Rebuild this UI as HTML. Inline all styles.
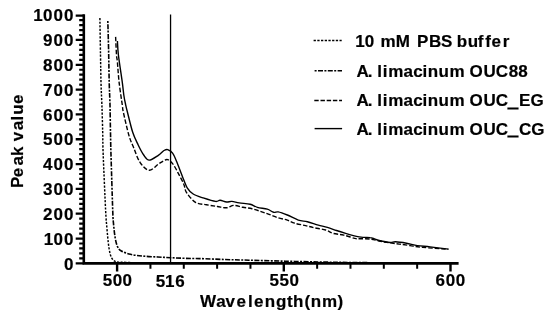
<!DOCTYPE html>
<html><head><meta charset="utf-8"><title>Peak value vs Wavelength</title>
<style>html,body{margin:0;padding:0;background:#fff}body{width:550px;height:313px;overflow:hidden}</style></head>
<body>
<svg width="550" height="313" viewBox="0 0 550 313" style="display:block">
<rect width="550" height="313" fill="#fff"/>
<g fill="none" stroke="#000" stroke-linecap="butt" stroke-linejoin="round">
<path d="M99.9 18.1C100.0 24.2 100.3 44.3 100.5 55.0C100.7 65.7 100.8 74.0 101.0 82.3C101.2 90.6 101.6 96.7 101.9 105.0C102.2 113.3 102.5 124.0 102.7 132.3C102.9 140.6 102.7 142.1 103.2 155.0C103.7 167.9 105.0 197.8 105.6 210.0C106.2 222.2 106.5 222.7 106.9 228.2C107.4 233.7 107.8 238.6 108.3 242.8C108.8 247.1 109.4 250.9 110.1 253.7C110.8 256.5 111.7 258.1 112.7 259.5C113.7 260.9 115.0 261.4 116.2 261.8C117.4 262.2 118.4 262.1 120.0 262.2C121.6 262.3 123.5 262.3 126.0 262.4C128.5 262.5 131.0 262.6 135.0 262.7C139.0 262.8 147.5 263.0 150.0 263.1L170 263.3L448.4 263.3" stroke-width="1.45" stroke-dasharray="2.2 1.44"/>
<path d="M107.8 21.0C108.0 26.7 108.5 44.8 108.7 55.0C108.9 65.2 109.0 74.0 109.2 82.3C109.4 90.6 109.8 96.7 110.0 105.0C110.2 113.3 110.3 124.0 110.5 132.3C110.7 140.6 110.6 142.1 111.0 155.0C111.4 167.9 112.3 198.4 112.7 210.0C113.1 221.6 113.2 220.0 113.6 224.6C114.0 229.2 114.5 233.7 115.1 237.3C115.7 240.9 116.4 244.1 117.4 246.4C118.5 248.7 119.2 249.7 121.4 251.0C123.6 252.3 126.8 253.5 130.5 254.3C134.2 255.2 138.7 255.7 143.3 256.1C147.9 256.6 153.4 256.7 157.9 257.0C162.4 257.3 166.1 257.5 170.6 257.7C175.1 257.9 180.1 258.1 185.0 258.3C189.9 258.5 193.3 258.4 200.0 258.6C206.7 258.8 216.8 259.2 225.0 259.5C233.2 259.8 239.0 259.9 249.0 260.2C259.0 260.5 273.2 260.9 285.0 261.2C296.8 261.5 309.2 261.8 320.0 262.0C330.8 262.2 340.0 262.4 350.0 262.5C360.0 262.6 370.0 262.7 380.0 262.8C390.0 262.9 398.6 262.9 410.0 263.0C421.4 263.1 442.0 263.1 448.4 263.1" stroke-width="1.6" stroke-dasharray="2 1.4 5 1.4"/>
<path d="M115.6 36.9C115.8 39.9 116.2 50.8 116.5 55.0C116.8 59.2 117.0 57.5 117.4 62.0C117.8 66.5 118.3 75.1 119.1 82.3C119.9 89.5 121.6 100.0 122.3 105.0C123.0 110.0 122.2 107.0 123.3 112.0C124.4 117.0 127.1 129.0 128.8 135.0C130.5 141.0 131.8 143.2 133.7 147.8C135.6 152.4 137.4 158.6 140.0 162.3C142.6 166.1 146.0 170.0 149.1 170.3C152.2 170.6 155.8 165.7 158.3 164.1C160.8 162.5 162.4 161.3 164.0 160.6C165.6 159.8 166.2 159.0 167.7 159.6C169.2 160.2 171.0 161.6 172.8 163.9C174.6 166.2 176.5 169.9 178.3 173.3C180.1 176.7 182.5 181.0 183.8 184.2C185.2 187.4 184.5 189.3 186.4 192.3C188.3 195.3 192.2 200.2 195.5 202.3C198.8 204.4 202.8 204.0 206.4 204.7C210.1 205.4 214.1 206.0 217.4 206.5C220.8 207.0 223.8 208.0 226.5 207.8C229.2 207.6 231.1 205.5 233.8 205.4C236.5 205.3 239.9 206.8 242.9 207.3C245.9 207.9 249.0 208.0 252.0 208.7C255.0 209.4 258.2 210.6 261.1 211.6C264.0 212.6 266.2 213.4 269.1 214.4C272.0 215.4 275.2 216.9 278.2 217.8C281.2 218.8 284.6 219.2 287.3 220.1C290.0 221.0 291.6 222.3 294.6 223.2C297.6 224.1 302.2 224.8 305.5 225.6C308.8 226.4 311.2 227.1 314.6 227.8C318.0 228.5 322.6 229.1 325.6 230.0C328.7 230.9 329.9 232.5 332.9 233.3C335.9 234.2 340.2 234.2 343.8 235.1C347.4 235.9 352.1 237.8 354.7 238.4C357.2 239.0 356.6 238.6 359.1 238.7C361.7 238.8 366.7 238.6 370.0 239.0C373.3 239.4 375.8 240.3 379.1 241.0C382.5 241.7 386.8 242.4 390.1 242.9C393.5 243.4 395.9 243.7 399.2 244.1C402.5 244.5 406.2 245.0 410.1 245.6C414.1 246.2 416.5 246.8 422.9 247.4C429.3 248.0 444.1 248.9 448.4 249.2" stroke-width="1.4" stroke-dasharray="4.5 1.9"/>
<path d="M117.4 41.0C117.6 43.3 117.6 48.1 118.4 55.0C119.2 61.9 121.4 75.6 122.3 82.3C123.2 89.0 123.3 91.4 123.8 95.0C124.3 98.6 124.9 101.2 125.5 104.0C126.1 106.8 126.2 107.3 127.4 112.0C128.6 116.7 130.9 126.8 132.7 132.3C134.5 137.8 136.4 141.2 138.2 145.0C140.0 148.8 141.9 152.5 143.7 155.0C145.5 157.5 146.7 160.0 149.1 160.1C151.5 160.2 155.8 156.9 158.3 155.3C160.8 153.7 162.4 151.4 164.0 150.5C165.6 149.6 166.2 149.1 167.7 149.6C169.2 150.1 171.2 151.0 172.8 153.4C174.5 155.8 176.0 160.2 177.6 164.1C179.2 168.0 181.0 172.9 182.6 176.9C184.2 180.9 185.4 185.0 187.2 187.8C189.0 190.7 190.6 192.3 193.2 194.0C195.8 195.7 199.1 196.6 202.8 197.8C206.5 199.0 212.6 201.0 215.5 201.4C218.4 201.8 218.3 200.1 220.1 200.2C221.9 200.3 224.5 201.8 226.5 202.0C228.5 202.2 229.8 201.2 231.9 201.4C234.0 201.6 236.2 202.4 239.2 202.9C242.2 203.4 247.1 203.5 250.1 204.2C253.1 204.9 254.5 206.5 257.4 207.3C260.3 208.1 264.6 208.4 267.3 209.2C270.0 210.0 271.9 211.9 273.7 212.3C275.5 212.8 275.9 211.5 278.2 211.9C280.5 212.3 283.9 213.6 287.3 215.0C290.7 216.4 295.0 219.0 298.3 220.1C301.6 221.2 304.1 221.0 307.4 221.8C310.7 222.6 315.0 224.2 318.3 225.1C321.6 226.0 324.4 226.5 327.4 227.4C330.4 228.3 333.5 229.5 336.5 230.5C339.5 231.5 341.8 232.2 345.6 233.3C349.4 234.4 356.0 236.2 359.1 236.9C362.2 237.6 362.7 237.3 364.5 237.4C366.3 237.5 368.3 237.3 370.0 237.6C371.7 237.8 373.0 238.4 374.5 238.9C376.0 239.4 376.5 239.9 379.1 240.5C381.7 241.1 387.4 242.3 390.1 242.5C392.8 242.7 392.8 241.7 395.5 241.8C398.2 241.9 402.9 242.6 406.5 243.2C410.1 243.8 413.5 245.0 417.4 245.6C421.3 246.2 424.9 246.3 430.1 246.9C435.3 247.5 445.3 248.7 448.4 249.1" stroke-width="1.4"/>
<path d="M170.55 14.5V263" stroke-width="1.3"/>
<path d="M83.8 14.3V264.7M82.5 263.4H458.6" stroke-width="2.6"/>
<path d="M75.7 263.35H83.8M75.7 238.53H83.8M75.7 213.71H83.8M75.7 188.89H83.8M75.7 164.07H83.8M75.7 139.25H83.8M75.7 114.43H83.8M75.7 89.61H83.8M75.7 64.79H83.8M75.7 39.97H83.8M75.7 15.65H83.8" stroke-width="2.3"/>
<path d="M79.2 258.39H83.8M79.2 253.42H83.8M79.2 248.46H83.8M79.2 243.49H83.8M79.2 233.57H83.8M79.2 228.60H83.8M79.2 223.64H83.8M79.2 218.67H83.8M79.2 208.75H83.8M79.2 203.78H83.8M79.2 198.82H83.8M79.2 193.85H83.8M79.2 183.93H83.8M79.2 178.96H83.8M79.2 174.00H83.8M79.2 169.03H83.8M79.2 159.11H83.8M79.2 154.14H83.8M79.2 149.18H83.8M79.2 144.21H83.8M79.2 134.29H83.8M79.2 129.32H83.8M79.2 124.36H83.8M79.2 119.39H83.8M79.2 109.47H83.8M79.2 104.50H83.8M79.2 99.54H83.8M79.2 94.57H83.8M79.2 84.65H83.8M79.2 79.68H83.8M79.2 74.72H83.8M79.2 69.75H83.8M79.2 59.83H83.8M79.2 54.86H83.8M79.2 49.90H83.8M79.2 44.93H83.8M79.2 35.01H83.8M79.2 30.04H83.8M79.2 25.08H83.8M79.2 20.11H83.8" stroke-width="2.2"/>
<path d="M117.10 263.4V271.6M283.80 263.4V271.6M450.50 263.4V271.6" stroke-width="2.4"/>
<path d="M150.44 263.4V268.8M183.78 263.4V268.8M217.12 263.4V268.8M250.46 263.4V268.8M317.14 263.4V268.8M350.48 263.4V268.8M383.82 263.4V268.8M417.16 263.4V268.8" stroke-width="2"/>
<path d="M313.6 40.5H341.7" stroke-width="1.3" stroke-dasharray="2.3 1.4"/>
<path d="M314.6 70.8H342" stroke-width="1.6" stroke-dasharray="2 1.4 5 1.4"/>
<path d="M314.3 100.5H342" stroke-width="1.5" stroke-dasharray="4.4 1.8"/>
<path d="M314.6 128.6H342.1" stroke-width="1.4"/>
</g>
<g font-family="'Liberation Sans', Arial, sans-serif" font-weight="bold" font-size="17" fill="#000" stroke="#000" stroke-width="0.2" stroke-linejoin="round">
<text x="64.1" y="269.5">0</text>
<text x="43.8 53.5 64.1" y="244.6">100</text>
<text x="43.0 53.5 64.1" y="219.8">200</text>
<text x="43.0 53.5 64.1" y="195.0">300</text>
<text x="43.0 53.5 64.1" y="170.2">400</text>
<text x="43.0 53.5 64.1" y="145.4">500</text>
<text x="43.0 53.5 64.1" y="120.5">600</text>
<text x="43.0 53.5 64.1" y="95.7">700</text>
<text x="43.0 53.5 64.1" y="70.9">800</text>
<text x="43.0 53.5 64.1" y="46.1">900</text>
<text x="33.2 43.0 53.5 64.1" y="21.0">1000</text>
<text x="102.7 112.8 122.6" y="286.2">500</text>
<text x="155.8 165.1 175.3" y="287.2">516</text>
<text x="269.5 279.6 289.4" y="286.2">550</text>
<text x="435.6 445.7 455.7" y="286.3">600</text>
<text x="200.1 216.3 225.5 236.5 248.1 254.1 264.8 275.9 287.1 292.9 304.5 310.7 321.9 337.4" y="306.7">Wavelength(nm)</text>
<text transform="translate(22.9 187.9) rotate(-90)" x="0.0 10.6 22.3 32.0 41.4 46.7 57.6 67.4 73.1 83.9" y="0">Peak value</text>
<text x="355.3 364.8 374.3 380.6 395.7 410.0 416.9 429.0 441.1 452.5 456.8 467.8 477.7 485.2 491.6 502.7" y="46.6 46.6 46.6 46.6 46.6 46.6 46.6 46.6 46.6 46.6 46.6 46.6 46.6 46.6 46.6 46.6">10 mM PBS buffer</text>
<text x="356.5 367.8 372.5 377.3 382.8 388.3 403.5 413.3 422.5 427.7 438.4 449.6 464.6 469.5 483.6 495.8 508.8 518.3" y="76.7 76.7 76.7 76.7 76.7 76.7 76.7 76.7 76.7 76.7 76.7 76.7 76.7 76.7 76.7 76.7 76.7 76.7">A. limacinum OUC88</text>
<text x="356.5 367.8 372.5 377.3 382.8 388.3 403.5 413.3 422.5 427.7 438.4 449.6 464.6 469.5 483.6 495.8 508.3 518.9 530.5" y="106.4 106.4 106.4 106.4 106.4 106.4 106.4 106.4 106.4 106.4 106.4 106.4 106.4 106.4 106.4 106.4 106.8 106.4 106.4">A. limacinum OUC<tspan stroke-width="1.4" stroke-linejoin="miter">_</tspan>EG</text>
<text x="356.5 367.8 372.5 377.3 382.8 388.3 403.5 413.3 422.5 427.7 438.4 449.6 464.6 469.5 483.6 495.8 508.3 519.0 531.2" y="134.5 134.5 134.5 134.5 134.5 134.5 134.5 134.5 134.5 134.5 134.5 134.5 134.5 134.5 134.5 134.5 134.9 134.5 134.5">A. limacinum OUC<tspan stroke-width="1.4" stroke-linejoin="miter">_</tspan>CG</text>
</g>
</svg>
</body></html>
